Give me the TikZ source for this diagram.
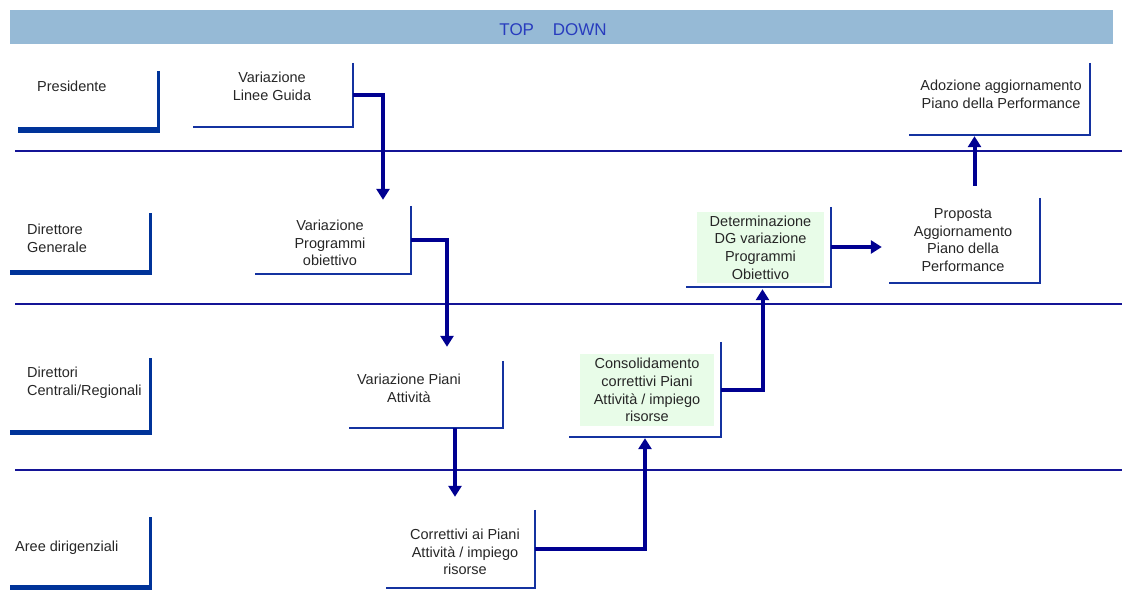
\documentclass[tikz,border=0pt]{standalone}
\usepackage{fontspec}
\setmainfont{Liberation Sans}
\usetikzlibrary{arrows.meta, positioning}
\definecolor{rolecol}{RGB}{0,51,153}
\definecolor{stepcol}{RGB}{20,50,160}
\definecolor{flowcol}{RGB}{0,0,145}
\definecolor{sepcol}{RGB}{20,20,150}
\definecolor{headfill}{RGB}{150,186,214}
\definecolor{headtext}{RGB}{40,60,190}
\definecolor{greenfill}{RGB}{232,252,232}
\tikzset{
  box/.style={inner sep=0pt, minimum width=#1},
  txt/.style={inner sep=0pt, align=center, text=black!85, font=\fontsize{14.5}{17.7}\selectfont},
  roletxt/.style={txt, align=left, anchor=west},
  greenbox/.style={txt, fill=greenfill, minimum width=#1},
  stepline/.style={draw=stepcol, line width=2pt},
  rolev/.style={draw=rolecol, line width=3pt},
  roleh/.style={draw=rolecol, line width=5.5pt},
  sep/.style={draw=sepcol, line width=2.5pt},
  flow/.style={draw=flowcol, line width=4pt, -{Triangle[length=11pt, width=13pt]}}
}
\begin{document}
\begin{tikzpicture}[x=1pt, y=-1pt]
  \useasboundingbox (0,0) rectangle (1122,612);
  % header
  \node[fill=headfill, minimum width=1103pt, minimum height=34pt, inner sep=0pt] (head) at (561.5,27) {};
  \node[inner sep=0pt, text=headtext, font=\fontsize{17}{20}\selectfont] (headT) at (553,30) {TOP\hspace{1.1em}DOWN};
  % lane separators
  \draw[sep] (15,151) -- (1122,151);
  \draw[sep] (15,304) -- (1122,304);
  \draw[sep] (15,470) -- (1122,470);
  % roles
  \node[box=140pt, minimum height=59pt] (pres) at (88,100.5) {};
  \node[box=140pt, minimum height=59pt] (dg) at (80,243) {};
  \node[box=140pt, minimum height=74pt] (dcr) at (80,395.5) {};
  \node[box=140pt, minimum height=70pt] (aree) at (80,552.5) {};
  \node[roletxt] (presT) at (37,86) {Presidente};
  \node[roletxt] (dgT) at (27,238.5) {Direttore\\Generale};
  \node[roletxt] (dcrT) at (27,382.5) {Direttori\\Centrali/Regionali};
  \node[roletxt] (areeT) at (15,548) {Aree dirigenziali};
  \foreach \n in {pres,dg,dcr,aree} {
    \draw[rolev] (\n.north east) -- ([yshift=-2pt]\n.south east);
    \draw[roleh] ([xshift=1.5pt]\n.south east) -- (\n.south west);
  }
  % steps
  \node[box=160pt, minimum height=64pt] (lg) at (273,95) {};
  \node[box=156pt, minimum height=68pt] (prog) at (333,240) {};
  \node[box=154pt, minimum height=67pt] (piani) at (426,394.5) {};
  \node[box=149pt, minimum height=78pt] (corr) at (460.5,549) {};
  \node[box=152pt, minimum height=95pt] (cons) at (645,389.5) {};
  \node[box=145pt, minimum height=80pt] (det) at (758.5,247) {};
  \node[box=151pt, minimum height=85pt] (prop) at (964.5,240.5) {};
  \node[box=181pt, minimum height=72pt] (ado) at (999.5,99) {};
  \node[txt] (lgT) at (272,86) {Variazione\\Linee Guida};
  \node[txt] (progT) at (330,243) {Variazione\\Programmi\\obiettivo};
  \node[txt] (pianiT) at (409,388) {Variazione Piani\\Attività};
  \node[txt] (corrT) at (465,552) {Correttivi ai Piani\\Attività / impiego\\risorse};
  \node[greenbox=134pt, minimum height=72pt] (consT) at (647,390) {Consolidamento\\correttivi Piani\\Attività / impiego\\risorse};
  \node[greenbox=127pt, minimum height=71pt] (detT) at (760.5,247.5) {Determinazione\\DG variazione\\Programmi\\Obiettivo};
  \node[txt] (propT) at (963,240) {Proposta\\Aggiornamento\\Piano della\\Performance};
  \node[txt] (adoT) at (1001,94) {Adozione aggiornamento\\Piano della Performance};
  \foreach \n in {lg,prog,piani,corr,cons,det,prop,ado}
    \draw[stepline] (\n.north east) -- (\n.south east) -- (\n.south west);
  % flow
  \draw[flow, shorten >=6pt] (lg.east) -| ([xshift=50pt]prog.north);
  \draw[flow, shorten >=14pt] (prog.east) -| ([xshift=21pt]piani.north);
  \draw[flow, shorten >=13pt] ([xshift=29pt]piani.south) -- ([xshift=29pt]piani.south |- corr.north);
  \draw[flow, shorten >=1pt] (corr.east) -| (cons.south);
  \draw[flow, shorten >=2pt] (cons.east) -| ([xshift=4pt]det.south);
  \draw[flow, shorten >=7pt] (det.east) -- (det.east -| prop.west);
  \draw[flow, shorten >=1pt] ([xshift=10pt,yshift=12pt]prop.north) -- ([xshift=10pt]prop.north |- ado.south);
\end{tikzpicture}
\end{document}
